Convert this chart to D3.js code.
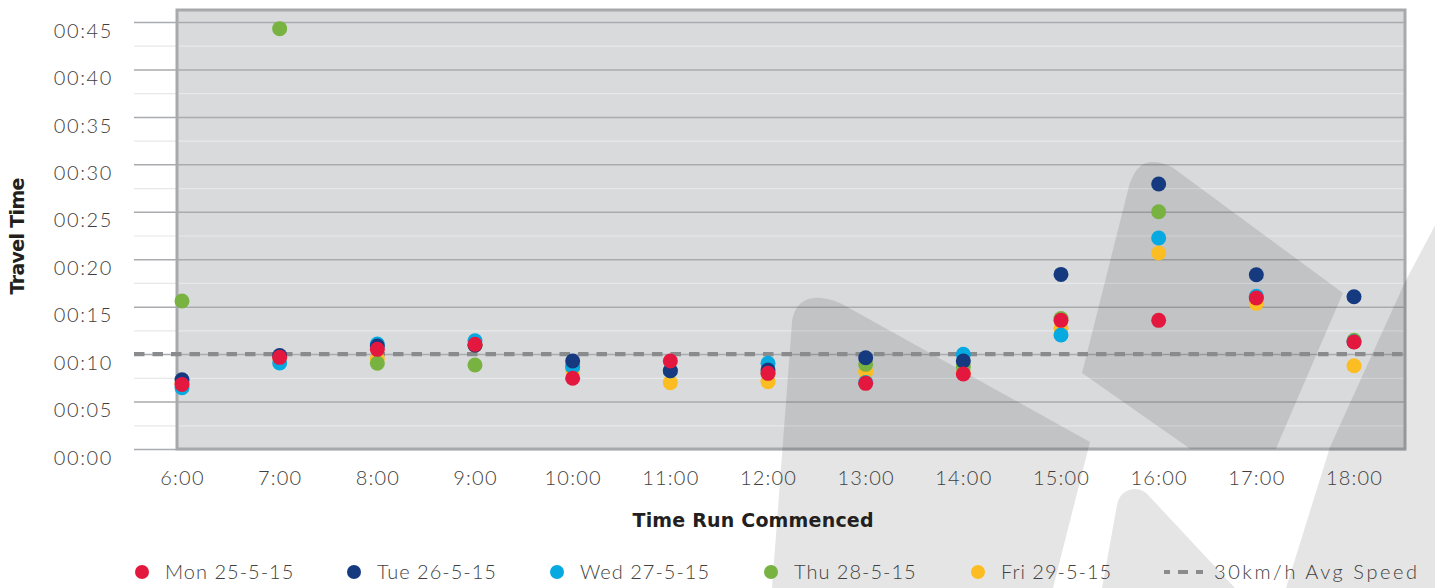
<!DOCTYPE html>
<html>
<head>
<meta charset="utf-8">
<script src="https://cdn.jsdelivr.net/npm/d3@7"></script>
<style>
  html, body { margin: 0; padding: 0; background: #fff; }
  svg { display: block; }
  text { font-family: Lato, "Open Sans", sans-serif; }
  .title { font-family: "DejaVu Sans", Lato, sans-serif; font-weight: 700; font-size: 19px; }
</style>
</head>
<body>
<svg id="chart" width="1435" height="588"></svg>
<script>
// Hour each run started (x) and its label
const runHours = [6, 7, 8, 9, 10, 11, 12, 13, 14, 15, 16, 17, 18];
const runLabels = ["6:00", "7:00", "8:00", "9:00", "10:00", "11:00", "12:00",
                   "13:00", "14:00", "15:00", "16:00", "17:00", "18:00"];

// Travel time per run, in minutes
const mon = [6.8, 9.66, 10.5, 11.03, 7.45, 9.27, 7.97, 6.92, 7.9, 13.56, 13.56, 15.91, 11.28];
const tue = [7.3, 9.85, 10.85, 10.93, 9.27, 8.25, 8.32, 9.62, 9.27, 18.4, 27.92, 18.37, 16.05];
const wed = [6.45, 9.06, 11.06, 11.4, 8.67, 8.25, 9.03, 7.0, 9.98, 12.01, 22.23, 16.1, 11.3];
const thu = [15.6, 44.3, 9.03, 8.85, 8.67, 8.25, 8.0, 8.92, 8.67, 13.75, 25.0, 16.0, 11.45];
const fri = [6.9, 9.6, 9.5, 10.95, 8.3, 6.99, 7.1, 8.15, 8.0, 12.72, 20.65, 15.35, 8.78];

const seriesNames = ["Mon 25-5-15", "Tue 26-5-15", "Wed 27-5-15", "Thu 28-5-15", "Fri 29-5-15"];
const seriesValues = [mon, tue, wed, thu, fri];
const seriesColors = ["#e4183f", "#163a80", "#06a9e0", "#78b342", "#fbbd21"];

// Travel time at a 30km/h average speed, in minutes
const avgSpeedMinutes = 10;
const avgSpeedLabel = "30km/h Avg Speed";

// Y axis ticks (minutes) and their labels
const yTicks = [0, 5, 10, 15, 20, 25, 30, 35, 40, 45];
const yTickLabels = ["00:00", "00:05", "00:10", "00:15", "00:20", "00:25", "00:30", "00:35", "00:40", "00:45"];
const yMinorTicks = [2.5, 7.5, 12.5, 17.5, 22.5, 27.5, 32.5, 37.5, 42.5];

const xTitle = "Time Run Commenced";
const yTitle = "Travel Time";

// ---------------------------------------------------------------------------
const svg = d3.select("#chart");
const plot = { left: 177, right: 1405, top: 10, bottom: 449 };
const gridLeft = 134;

const x = d3.scaleLinear().domain([6, 18]).range([182, 1354]);
const y = d3.scaleLinear().domain([0, 45]).range([449, 22]);

svg.append("defs").append("clipPath").attr("id", "plot-clip")
  .append("rect")
  .attr("x", plot.left).attr("y", plot.top)
  .attr("width", plot.right - plot.left).attr("height", plot.bottom - plot.top);

// plot background
svg.append("rect")
  .attr("x", plot.left).attr("y", plot.top)
  .attr("width", plot.right - plot.left).attr("height", plot.bottom - plot.top)
  .attr("fill", "#d9dadc");

// minor gridlines
const minorAxis = svg.append("g")
  .attr("transform", `translate(${gridLeft},0)`)
  .call(d3.axisLeft(y).tickValues(yMinorTicks).tickFormat("")
        .tickSizeInner(-(plot.right - gridLeft)).tickSizeOuter(0));
minorAxis.select(".domain").remove();
minorAxis.selectAll("line").attr("stroke", "#e7e8e9").attr("stroke-width", 1.2);

// major gridlines + labels
const yAxis = svg.append("g")
  .attr("transform", `translate(${gridLeft},0)`)
  .call(d3.axisLeft(y).tickValues(yTicks).tickFormat((d, i) => yTickLabels[i])
        .tickSizeInner(-(plot.right - gridLeft)).tickSizeOuter(0).tickPadding(21));
yAxis.select(".domain").remove();
yAxis.selectAll("line").attr("stroke", "#a9abae").attr("stroke-width", 1.5);
yAxis.selectAll("text")
  .attr("y", 8).attr("dy", "0.36em")
  .attr("fill", "#3f3f41")
  .style("font-family", "Lato, sans-serif")
  .style("font-weight", 300)
  .style("font-size", "20px")
  .style("letter-spacing", "1.6px");

// plot frame
svg.append("rect")
  .attr("x", plot.left).attr("y", plot.top)
  .attr("width", plot.right - plot.left).attr("height", plot.bottom - plot.top)
  .attr("fill", "none").attr("stroke", "#a7a9ac").attr("stroke-width", 3);

// faint brand mark behind the data: one part sits only inside the plot frame
const logoPage = [
  "M772,588 L792,322 C794,304 806,296 822,298 C830,299 836,301 842,304 L1090,442 L1053,588 Z",
  "M1102,588 L1117,505 C1119,494 1127,489 1135,489 C1141,489 1146,492 1150,497 L1235,588 Z",
  "M1286,588 L1330,447 L1405,282 L1440,216 L1440,588 Z"
];
const logoPlot = [
  "M1082,373 L1128,190 C1133,170 1142,162 1152,162 C1160,162 1166,164 1172,167 L1343,293 L1256,495 Z"
];
svg.append("g").selectAll("path").data(logoPage).join("path")
  .attr("d", d => d)
  .attr("fill", "#000").attr("fill-opacity", 0.1);
svg.append("g").attr("clip-path", "url(#plot-clip)")
  .selectAll("path").data(logoPlot).join("path")
  .attr("d", d => d)
  .attr("fill", "#000").attr("fill-opacity", 0.1);

// 30km/h reference line
svg.append("line")
  .attr("x1", gridLeft).attr("x2", plot.right)
  .attr("y1", y(avgSpeedMinutes)).attr("y2", y(avgSpeedMinutes))
  .attr("stroke", "#8a8b8d").attr("stroke-width", 4.2)
  .attr("stroke-dasharray", "10.5,8");

// points: Friday at the bottom of the stack, Monday on top
const pts = [];
for (let s = seriesValues.length - 1; s >= 0; s--) {
  seriesValues[s].forEach((v, i) => pts.push({ s, hour: runHours[i], v }));
}
svg.append("g").selectAll("circle").data(pts).join("circle")
  .attr("cx", d => x(d.hour))
  .attr("cy", d => y(d.v))
  .attr("r", 7.5)
  .attr("fill", d => seriesColors[d.s]);

// x axis labels
const xAxis = svg.append("g")
  .attr("transform", `translate(0,${plot.bottom})`)
  .call(d3.axisBottom(x).tickValues(runHours).tickFormat((d, i) => runLabels[i])
        .tickSize(0).tickPadding(0));
xAxis.select(".domain").remove();
xAxis.selectAll("text")
  .attr("y", 29).attr("dy", "0.36em")
  .attr("fill", "#3f3f41")
  .style("font-family", "Lato, sans-serif")
  .style("font-weight", 300)
  .style("font-size", "20px")
  .style("letter-spacing", "1.2px");

// axis titles
svg.append("text")
  .attr("class", "title")
  .attr("x", 753).attr("y", 527)
  .attr("text-anchor", "middle")
  .attr("fill", "#231f20")
  .attr("textLength", 241).attr("lengthAdjust", "spacing")
  .text(xTitle);

svg.append("text")
  .attr("class", "title")
  .attr("transform", "translate(24,236) rotate(-90)")
  .attr("text-anchor", "middle")
  .attr("fill", "#231f20")
  .attr("textLength", 117).attr("lengthAdjust", "spacing")
  .text(yTitle);

// legend
const legendY = 572;
const legendItemX = [142, 354, 557, 771, 978];
const legend = svg.append("g");
seriesNames.forEach((name, i) => {
  legend.append("circle")
    .attr("cx", legendItemX[i]).attr("cy", legendY).attr("r", 7)
    .attr("fill", seriesColors[i]);
  legend.append("text")
    .attr("x", legendItemX[i] + 23).attr("y", legendY).attr("dy", "0.36em")
    .attr("fill", "#3f3f41")
    .style("font-weight", 300).style("font-size", "20px").style("letter-spacing", "1px")
    .text(name);
});
legend.append("line")
  .attr("x1", 1164).attr("x2", 1203)
  .attr("y1", legendY).attr("y2", legendY)
  .attr("stroke", "#8a8b8d").attr("stroke-width", 4.2)
  .attr("stroke-dasharray", "10,8").attr("stroke-dashoffset", 4);
legend.append("text")
  .attr("x", 1214).attr("y", legendY).attr("dy", "0.36em")
  .attr("fill", "#3f3f41")
  .attr("textLength", 203).attr("lengthAdjust", "spacing")
  .style("font-weight", 300).style("font-size", "20px")
  .text(avgSpeedLabel);
</script>
</body>
</html>
